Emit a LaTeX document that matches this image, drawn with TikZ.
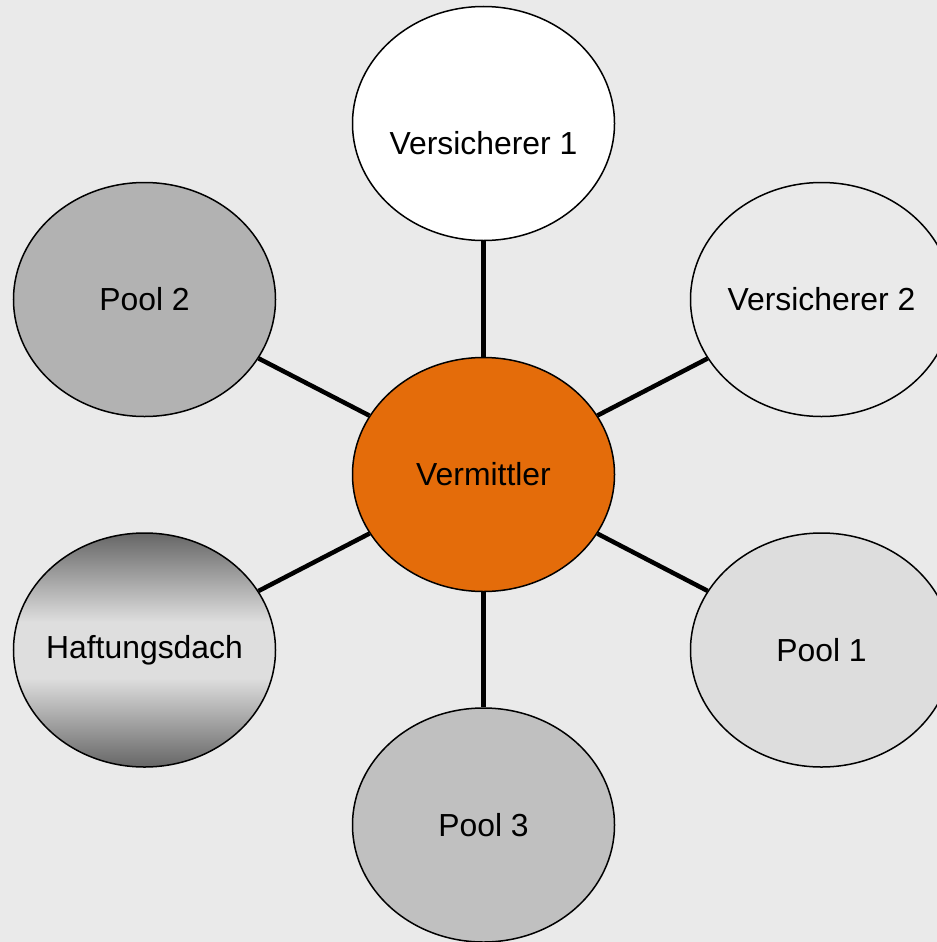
\documentclass[tikz,border=0pt]{standalone}
\usepackage{fontspec}
\setmainfont{Liberation Sans}
\usetikzlibrary{shapes.geometric}
\definecolor{bg}{HTML}{EAEAEA}
\definecolor{orng}{HTML}{E46C0A}
\definecolor{hdark}{HTML}{666666}
\definecolor{hlight}{HTML}{DEDEDE}
\pgfdeclareverticalshading{haft}{100bp}{color(0bp)=(hdark); color(25bp)=(hdark); color(44bp)=(hlight); color(56bp)=(hlight); color(75bp)=(hdark); color(100bp)=(hdark)}
\tikzset{
  bubble/.style={ellipse, draw=black, line width=1.5bp, minimum width=262bp, minimum height=234bp, inner sep=0pt, font=\fontsize{32}{38}\selectfont},
  link/.style={line width=4.5bp}
}
\begin{document}
\begin{tikzpicture}[x=1bp,y=-1bp]
\useasboundingbox (0,0) rectangle (937,942);
\clip (0,0) rectangle (937,942);
\fill[bg] (0,0) rectangle (937,942);
\node[bubble, fill=white, inner xsep=-20bp] (v1) at (483.5,123.5) {\raisebox{-31bp}[0pt][0pt]{Versicherer 1}};
\node[bubble, fill=bg, inner xsep=-20bp] (v2) at (821.5,299.5) {Versicherer 2};
\node[bubble, fill={rgb,255:red,178;green,178;blue,178}] (p2) at (144.5,299.5) {Pool 2};
\node[bubble, fill=orng] (verm) at (483.5,474.5) {Vermittler};
\node[bubble, shading=haft, inner xsep=-20bp] (haft) at (144.5,650) {Haftungsdach};
\node[bubble, fill={rgb,255:red,221;green,221;blue,221}] (p1) at (821.5,650) {Pool 1};
\node[bubble, fill={rgb,255:red,192;green,192;blue,192}] (p3) at (483.5,825) {Pool 3};
\foreach \n in {v1,v2,p2,haft,p1,p3}{\draw[link] (verm) -- (\n);}
\end{tikzpicture}
\end{document}
